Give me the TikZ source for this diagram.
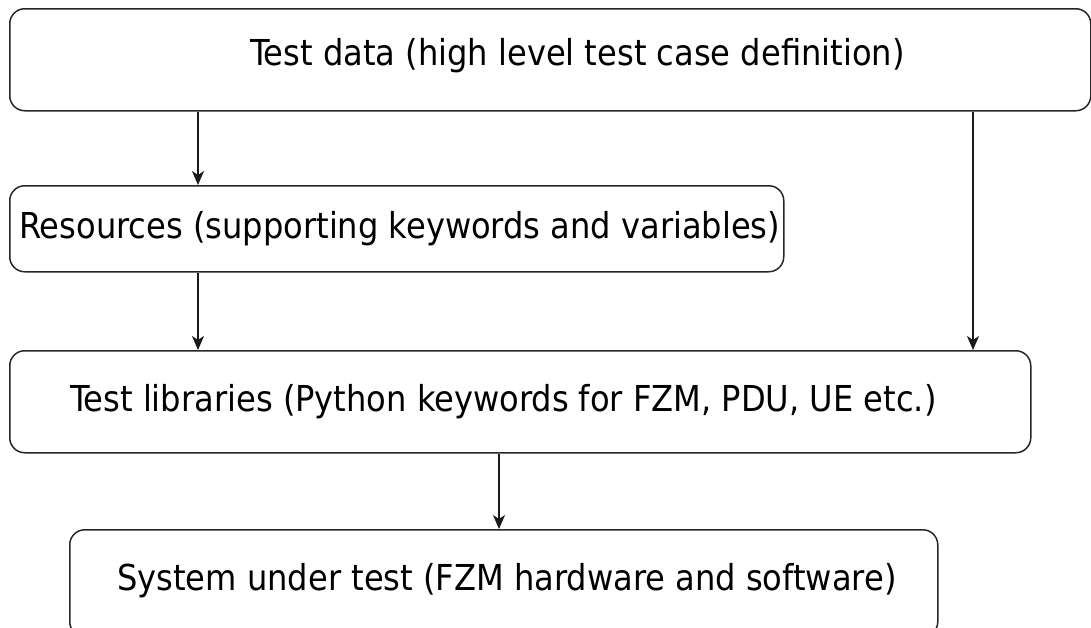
\documentclass[tikz,border=0pt]{standalone}
\usepackage{fontspec}
\setmainfont{DejaVu Sans Condensed}
\usetikzlibrary{arrows.meta}
\begin{document}
\begin{tikzpicture}[x=1pt,y=-1pt,
  box/.style={draw=black!85,line width=1.5pt,rounded corners=15pt},
  lbl/.style={anchor=base west,inner sep=0pt,font=\fontsize{35.7}{40}\selectfont},
  arr/.style={draw=black!90,line width=1.5pt,-{Stealth[length=14pt,width=12pt,inset=4pt]}}]
\useasboundingbox (0,0) rectangle (1091,627);
% boxes
\node[box,minimum width=1081pt,minimum height=102pt,anchor=north west] (data) at (9,8) {};
\node[box,minimum width=774pt,minimum height=86pt,anchor=north west] (res) at (9,185) {};
\node[box,minimum width=1021pt,minimum height=102pt,anchor=north west] (lib) at (9,350) {};
\node[box,minimum width=868pt,minimum height=107pt,anchor=north west] (sut) at (69,529) {};
% labels
\node[lbl] (tdata) at (250,65) {Test data (high level test case definition)};
\node[lbl] (tres) at (19,238) {Resources (supporting keywords and variables)};
\node[lbl] (tlib) at (70,411) {Test libraries (Python keywords for FZM, PDU, UE etc.)};
\node[lbl] (tsut) at (117,590) {System under test (FZM hardware and software)};
% connector columns
\coordinate (c1) at (198,0);
\coordinate (c2) at (973,0);
\coordinate (c3) at (499,0);
\draw[arr] (data.south -| c1) -- (res.north -| c1);
\draw[arr] (res.south -| c1) -- (lib.north -| c1);
\draw[arr] (data.south -| c2) -- (lib.north -| c2);
\draw[arr] (lib.south -| c3) -- (sut.north -| c3);
\end{tikzpicture}
\end{document}
